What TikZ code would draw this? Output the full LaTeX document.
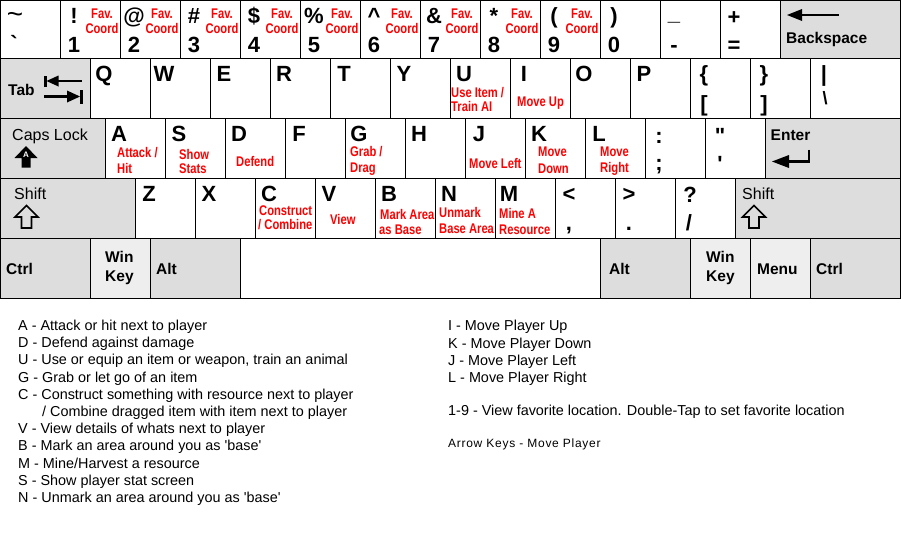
\documentclass[tikz,border=0pt]{standalone}
\usepackage{fontspec}
\setmainfont{Liberation Sans}[Ligatures=TeXOff]
\newfontfamily\capfont{Liberation Sans}[FakeStretch=0.8,Ligatures=TeXOff]
\newfontfamily\smallspaced{Liberation Sans}[LetterSpace=6,Ligatures=TeXOff]
\definecolor{keygray}{HTML}{DDDDDD}
\definecolor{keylite}{HTML}{EEEEEE}
\definecolor{capred}{HTML}{FF0000}
\tikzset{
  keybox/.style={draw=black, line width=1pt, rectangle, inner sep=0pt, outer sep=0pt, anchor=north west},
  graykey/.style={keybox, fill=keygray},
  litekey/.style={keybox, fill=keylite},
  whitekey/.style={keybox, fill=white},
  sym/.style={inner sep=0pt, font=\fontsize{22}{22}\selectfont\bfseries},
  smallsym/.style={inner sep=0pt, font=\fontsize{18}{18}\selectfont\bfseries},
  tildetxt/.style={inner sep=0pt, font=\fontsize{28}{28}\selectfont},
  capt/.style={inner sep=0pt, text=capred, font=\capfont\fontsize{14}{14}\selectfont\bfseries},
  keytxt/.style={inner sep=0pt, font=\fontsize{15.5}{16}\selectfont\bfseries},
  modtxt/.style={inner sep=0pt, font=\fontsize{16}{16}\selectfont},
  desc/.style={inner sep=0pt, anchor=base west, font=\fontsize{14.4}{16}\selectfont},
  descsmall/.style={inner sep=0pt, anchor=base west, font=\smallspaced\fontsize{12}{14}\selectfont},
  iconline/.style={line width=2.6pt},
  outlinearrow/.style={draw=black, line width=1.6pt, line join=miter},
}
\newcommand\Key[6]{\node[#6,minimum width=#4pt,minimum height=#5pt] (#1) at (#2,#3) {};}
\newcommand\Txt[7]{\node[#6,anchor=#5] (#1) at ([shift={(#3,#4)}]#2.north west) {#7};}
\newcommand\DKey[4]{%
  \Key{#1}{#2}{0}{60}{58}{whitekey}
  \Txt{#1s}{#1}{14}{23}{base}{sym}{#3}
  \Txt{#1d}{#1}{14}{52}{base}{sym}{#4}
  \Txt{#1f}{#1}{42}{18}{base}{capt}{Fav.}
  \Txt{#1c}{#1}{42}{33}{base}{capt}{Coord}}
\newcommand\LKey[4]{%
  \Key{#1}{#2}{#3}{60}{60}{whitekey}
  \Txt{#1l}{#1}{14}{23.5}{base}{sym}{#4}}
\newcommand\Line[4]{\node[#2] (#1) at #3 {#4};}
\begin{document}
\begin{tikzpicture}[x=1pt,y=-1pt]
\useasboundingbox[fill=white] (0,0) rectangle (901,550);

% ---------- row 1 ----------
\Key{ktil}{0}{0}{60}{58}{whitekey}
\Txt{ktila}{ktil}{15}{23}{base}{tildetxt}{\textasciitilde}
\Txt{ktilb}{ktil}{14}{51}{base}{sym}{\textasciigrave}
\DKey{k1}{60}{!}{1}
\DKey{k2}{120}{@}{2}
\DKey{k3}{180}{\#}{3}
\DKey{k4}{240}{\$}{4}
\DKey{k5}{300}{\%}{5}
\DKey{k6}{360}{\textasciicircum}{6}
\DKey{k7}{420}{\&}{7}
\DKey{k8}{480}{*}{8}
\DKey{k9}{540}{(}{9}
\Key{k0}{600}{0}{60}{58}{whitekey}
\Txt{k0s}{k0}{14}{23}{base}{sym}{)}
\Txt{k0d}{k0}{14}{52}{base}{sym}{0}
\Key{kmin}{660}{0}{60}{58}{whitekey}
\Txt{kmins}{kmin}{14}{20}{base}{sym}{\_}
\Txt{kmind}{kmin}{14}{52}{base}{sym}{-}
\Key{keq}{720}{0}{60}{58}{whitekey}
\Txt{keqs}{keq}{14}{24}{base}{sym}{+}
\Txt{keqd}{keq}{14}{52}{base}{sym}{=}
\Key{kbs}{780}{0}{120}{58}{graykey}
\Txt{kbst}{kbs}{6}{43}{base west}{keytxt}{Backspace}
\fill (787,15) -- (802,9) -- (802,21) -- cycle;
\draw[iconline] (800,15) -- (839,15);

% ---------- row 2 ----------
\Key{ktab}{0}{58}{90}{60}{graykey}
\Txt{ktabt}{ktab}{8}{37}{base west}{keytxt}{Tab}
\fill (43.5,75.5) rectangle (46.5,86.5);
\fill (46.5,81) -- (58.5,75.5) -- (58.5,86.5) -- cycle;
\draw[iconline] (58,81) -- (82,81);
\draw[iconline] (44,96.5) -- (68,96.5);
\fill (80,96.5) -- (67,90.5) -- (67,102.5) -- cycle;
\fill (80,89.5) rectangle (83,104);
\LKey{kq}{90}{58}{Q}
\LKey{kw}{150}{58}{W}
\LKey{ke}{210}{58}{E}
\LKey{kr}{270}{58}{R}
\LKey{kt}{330}{58}{T}
\LKey{ky}{390}{58}{Y}
\LKey{ku}{450}{58}{U}
\Txt{kua}{ku}{1}{39}{base west}{capt}{Use Item /}
\Txt{kub}{ku}{1}{53}{base west}{capt}{Train AI}
\LKey{ki}{510}{58}{I}
\Txt{kia}{ki}{7}{48}{base west}{capt}{Move Up}
\LKey{ko}{570}{58}{O}
\LKey{kp}{630}{58}{P}
\Key{klb}{690}{58}{60}{60}{whitekey}
\Txt{klbs}{klb}{14}{23}{base}{sym}{\{}
\Txt{klbd}{klb}{14}{53}{base}{sym}{[}
\Key{krb}{750}{58}{60}{60}{whitekey}
\Txt{krbs}{krb}{14}{23}{base}{sym}{\}}
\Txt{krbd}{krb}{14}{53}{base}{sym}{]}
\Key{kbsl}{810}{58}{90}{60}{whitekey}
\Txt{kbsls}{kbsl}{14}{23}{base}{sym}{|}
\Txt{kbsld}{kbsl}{15}{46}{base}{smallsym}{\textbackslash}

% ---------- row 3 ----------
\Key{kcaps}{0}{118}{105}{60}{graykey}
\Txt{kcapst}{kcaps}{12}{22}{base west}{modtxt}{Caps Lock}
\fill (26,146) -- (37.5,158) -- (30.5,158) -- (30.5,167.5) -- (21.5,167.5) -- (21.5,158) -- (14.5,158) -- cycle;
\node[inner sep=0pt, text=white, font=\fontsize{8}{8}\selectfont\bfseries, anchor=base] (kcapsA) at (26,157.5) {A};
\LKey{ka}{105}{118}{A}
\Txt{kaa}{ka}{12}{39}{base west}{capt}{Attack /}
\Txt{kab}{ka}{12}{55}{base west}{capt}{Hit}
\LKey{ks}{165}{118}{S}
\Txt{ksa}{ks}{14}{41}{base west}{capt}{Show}
\Txt{ksb}{ks}{14}{55}{base west}{capt}{Stats}
\LKey{kd}{225}{118}{D}
\Txt{kda}{kd}{11}{48}{base west}{capt}{Defend}
\LKey{kf}{285}{118}{F}
\LKey{kg}{345}{118}{G}
\Txt{kga}{kg}{5}{38}{base west}{capt}{Grab /}
\Txt{kgb}{kg}{5}{54}{base west}{capt}{Drag}
\LKey{kh}{405}{118}{H}
\LKey{kj}{465}{118}{J}
\Txt{kja}{kj}{4}{50}{base west}{capt}{Move Left}
\LKey{kk}{525}{118}{K}
\Txt{kka}{kk}{13}{38}{base west}{capt}{Move}
\Txt{kkb}{kk}{13}{55}{base west}{capt}{Down}
\LKey{kl}{585}{118}{L}
\Txt{kla}{kl}{15}{38}{base west}{capt}{Move}
\Txt{klb}{kl}{15}{54}{base west}{capt}{Right}
\Key{ksc}{645}{118}{60}{60}{whitekey}
\Txt{kscs}{ksc}{14}{25}{base}{sym}{:}
\Txt{kscd}{ksc}{14}{52}{base}{sym}{;}
\Key{kqt}{705}{118}{60}{60}{whitekey}
\Txt{kqts}{kqt}{15}{25}{base}{sym}{\char"22}
\Txt{kqtd}{kqt}{15}{53}{base}{sym}{\char"27}
\Key{kent}{765}{118}{135}{60}{graykey}
\Txt{kentt}{kent}{5.5}{22}{base west}{keytxt}{Enter}
\draw[iconline, line join=miter] (809,149.5) -- (809,161.5) -- (786,161.5);
\fill (772,161.5) -- (789,155) -- (789,168) -- cycle;

% ---------- row 4 ----------
\Key{kshl}{0}{178}{135}{60}{graykey}
\Txt{kshlt}{kshl}{14}{21}{base west}{modtxt}{Shift}
\draw[outlinearrow] (26.5,205.5) -- (38,217) -- (31.5,217) -- (31.5,228) -- (21.5,228) -- (21.5,217) -- (15,217) -- cycle;
\LKey{kz}{135}{178}{Z}
\LKey{kx}{195}{178}{X}
\LKey{kc}{255}{178}{C}
\Txt{kca}{kc}{4}{37}{base west}{capt}{Construct}
\Txt{kcb}{kc}{3}{51}{base west}{capt}{/ Combine}
\LKey{kv}{315}{178}{V}
\Txt{kva}{kv}{15}{46}{base west}{capt}{View}
\LKey{kb}{375}{178}{B}
\Txt{kba}{kb}{5}{41}{base west}{capt}{Mark Area}
\Txt{kbb}{kb}{4}{56}{base west}{capt}{as Base}
\LKey{kn}{435}{178}{N}
\Txt{kna}{kn}{4}{39}{base west}{capt}{Unmark}
\Txt{knb}{kn}{4}{55}{base west}{capt}{Base Area}
\LKey{km}{495}{178}{M}
\Txt{kma}{km}{4}{40}{base west}{capt}{Mine A}
\Txt{kmb}{km}{4}{56}{base west}{capt}{Resource}
\Key{kcom}{555}{178}{60}{60}{whitekey}
\Txt{kcoms}{kcom}{14}{23}{base}{sym}{<}
\Txt{kcomd}{kcom}{14}{52}{base}{sym}{,}
\Key{kper}{615}{178}{60}{60}{whitekey}
\Txt{kpers}{kper}{14}{23}{base}{sym}{>}
\Txt{kperd}{kper}{14}{52}{base}{sym}{.}
\Key{ksl}{675}{178}{60}{60}{whitekey}
\Txt{ksls}{ksl}{15}{24}{base}{sym}{?}
\Txt{ksld}{ksl}{14}{52}{base}{sym}{/}
\Key{kshr}{735}{178}{165}{60}{graykey}
\Txt{kshrt}{kshr}{7}{21}{base west}{modtxt}{Shift}
\draw[outlinearrow] (754,205.5) -- (765.5,217) -- (759,217) -- (759,228) -- (749,228) -- (749,217) -- (742.5,217) -- cycle;

% ---------- row 5 ----------
\Key{kctl}{0}{238}{90}{60}{graykey}
\Txt{kctlt}{kctl}{6}{36}{base west}{keytxt}{Ctrl}
\Key{kwin}{90}{238}{60}{60}{litekey}
\Txt{kwina}{kwin}{15}{24.5}{base west}{keytxt}{Win}
\Txt{kwinb}{kwin}{15}{43}{base west}{keytxt}{Key}
\Key{kalt}{150}{238}{90}{60}{graykey}
\Txt{kaltt}{kalt}{6}{36}{base west}{keytxt}{Alt}
\Key{kspc}{240}{238}{360}{60}{whitekey}
\Key{kaltr}{600}{238}{90}{60}{graykey}
\Txt{kaltrt}{kaltr}{9}{36}{base west}{keytxt}{Alt}
\Key{kwinr}{690}{238}{60}{60}{litekey}
\Txt{kwinra}{kwinr}{16}{24.5}{base west}{keytxt}{Win}
\Txt{kwinrb}{kwinr}{16}{43}{base west}{keytxt}{Key}
\Key{kmenu}{750}{238}{60}{60}{litekey}
\Txt{kmenut}{kmenu}{7}{36}{base west}{keytxt}{Menu}
\Key{kctr}{810}{238}{90}{60}{graykey}
\Txt{kctrt}{kctr}{6}{36}{base west}{keytxt}{Ctrl}

% ---------- legend ----------
\Line{la}{desc}{(18,330.5)}{A - Attack or hit next to player}
\Line{ld}{desc}{(18,347.7)}{D - Defend against damage}
\Line{lu}{desc}{(18,364.9)}{U - Use or equip an item or weapon, train an animal}
\Line{lg}{desc}{(18,382.1)}{G - Grab or let go of an item}
\Line{lc}{desc}{(18,399.3)}{C - Construct something with resource next to player}
\Line{lc2}{desc}{(42,416.5)}{/ Combine dragged item with item next to player}
\Line{lv}{desc}{(18,433.7)}{V - View details of whats next to player}
\Line{lb}{desc}{(18,450.9)}{B - Mark an area around you as 'base'}
\Line{lm}{desc}{(18,468.1)}{M - Mine/Harvest a resource}
\Line{ls}{desc}{(18,485.3)}{S - Show player stat screen}
\Line{ln}{desc}{(18,502.5)}{N - Unmark an area around you as 'base'}

\Line{ri}{desc}{(448,330.7)}{I - Move Player Up}
\Line{rk}{desc}{(448,348)}{K - Move Player Down}
\Line{rj}{desc}{(448,365.3)}{J - Move Player Left}
\Line{rl}{desc}{(448,382.6)}{L - Move Player Right}
\Line{rf}{desc}{(448,415.5)}{1-9 - View favorite location. Double-Tap to set favorite location}
\Line{ra}{descsmall}{(448,447)}{Arrow Keys - Move Player}
\end{tikzpicture}
\end{document}
